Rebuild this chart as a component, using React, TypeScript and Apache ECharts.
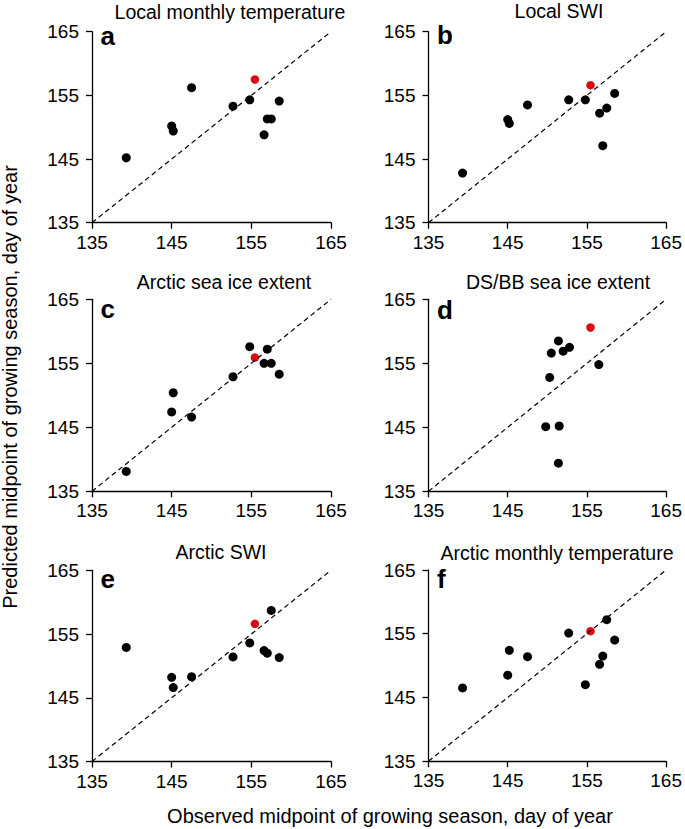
import React, { useEffect, useRef } from "react";
import * as echarts from "echarts";

// ---- data ----
const axisTicks = [135, 145, 155, 165];
const observed = [139.3, 145.0, 145.2, 147.5, 152.7, 154.8, 156.6, 157.0, 157.5, 158.5];
const observedRed = 155.45;

const predLocalTemp = [145.2, 150.2, 149.4, 156.2, 153.3, 154.3, 148.8, 151.3, 151.3, 154.1];
const predLocalSWI = [142.8, 151.2, 150.6, 153.5, 154.3, 154.3, 152.2, 147.1, 153.0, 155.3];
const predArcticIce = [138.1, 147.4, 150.4, 146.6, 152.9, 157.6, 155.0, 157.2, 155.0, 153.3];
const dsbbObserved = [149.8, 150.3, 150.5, 151.4, 151.4, 151.5, 152.0, 152.8, 156.5];
const predDsbbIce = [145.1, 152.8, 156.6, 139.4, 158.5, 145.2, 156.9, 157.5, 154.8];
const predArcticSWI = [152.9, 148.2, 146.6, 148.3, 151.4, 153.6, 152.4, 152.0, 158.7, 151.3];
const predArcticTemp = [146.5, 148.5, 152.4, 151.4, 155.1, 147.0, 150.2, 151.5, 157.2, 154.0];
const predRed = [157.5, 156.6, 155.9, 160.6, 156.6, 155.4];

const panelTitles = [
  "Local monthly temperature",
  "Local SWI",
  "Arctic sea ice extent",
  "DS/BB sea ice extent",
  "Arctic SWI",
  "Arctic monthly temperature",
];
const panelLetters = ["a", "b", "c", "d", "e", "f"];
const xAxisTitle = "Observed midpoint of growing season, day of year";
const yAxisTitle = "Predicted midpoint of growing season, day of year";

const panelObserved = [observed, observed, observed, dsbbObserved, observed, observed];
const panelPredicted = [predLocalTemp, predLocalSWI, predArcticIce, predDsbbIce, predArcticSWI, predArcticTemp];

// ---- layout (pixels) ----
const layout = [
  { left: 92, top: 31.7, width: 239, height: 191, titleX: 230, titleBase: 18.3, letterBase: 45 },
  { left: 428.5, top: 31.7, width: 238.5, height: 191, titleX: 559, titleBase: 17.8, letterBase: 44.5 },
  { left: 92, top: 299.3, width: 239, height: 192, titleX: 224, titleBase: 288.3, letterBase: 318.3 },
  { left: 428.5, top: 299.3, width: 238.5, height: 192, titleX: 558, titleBase: 288.3, letterBase: 318.8 },
  { left: 92, top: 570.3, width: 239, height: 191.2, titleX: 221, titleBase: 559, letterBase: 588.3 },
  { left: 428.5, top: 570, width: 238.5, height: 191.2, titleX: 557, titleBase: 559.3, letterBase: 588.3 },
];

const FONT = "'Liberation Sans', Arial, Helvetica, sans-serif";
const central = (fs: number) => 0.3465 * fs;

function buildOption() {
  const min = axisTicks[0];
  const max = axisTicks[axisTicks.length - 1];
  const interval = axisTicks[1] - axisTicks[0];
  const axisLine = { show: true, onZero: false, lineStyle: { color: "#000", width: 1.3 } };
  const axisTick = { show: true, length: 6, lineStyle: { color: "#000", width: 1.3 } };

  const grid = layout.map((g) => ({ left: g.left, top: g.top, width: g.width, height: g.height }));
  const xAxis = layout.map((_, i) => ({
    gridIndex: i, type: "value", min, max, interval,
    axisLine, axisTick,
    axisLabel: { color: "#000", fontSize: 19, fontFamily: FONT, margin: 10 },
    splitLine: { show: false },
  }));
  const yAxis = layout.map((_, i) => ({
    gridIndex: i, type: "value", min, max, interval,
    axisLine, axisTick,
    axisLabel: { color: "#000", fontSize: 19, fontFamily: FONT, margin: 13 },
    splitLine: { show: false },
  }));

  const series: any[] = [];
  layout.forEach((_, i) => {
    series.push({
      type: "line", xAxisIndex: i, yAxisIndex: i, silent: true,
      data: [[min, min], [max, max]], showSymbol: false, symbol: "none",
      lineStyle: { color: "#000", width: 1.2, type: [5, 3.5] },
    });
    series.push({
      type: "scatter", xAxisIndex: i, yAxisIndex: i,
      data: panelObserved[i].map((x, k) => [x, panelPredicted[i][k]]),
      symbolSize: 9, itemStyle: { color: "#000", opacity: 1 },
    });
    series.push({
      type: "scatter", xAxisIndex: i, yAxisIndex: i,
      data: [[observedRed, predRed[i]]],
      symbolSize: 8.5, itemStyle: { color: "#dc0a10", opacity: 1 },
    });
  });

  const graphic: any[] = [];
  layout.forEach((g, i) => {
    graphic.push({
      type: "text", x: g.titleX, y: g.titleBase - central(19.5),
      style: { text: panelTitles[i], fontSize: 19.5, fontFamily: FONT, fill: "#000", align: "center", verticalAlign: "middle" },
    });
    graphic.push({
      type: "text", x: g.left + 8.5, y: g.letterBase - central(26),
      style: { text: panelLetters[i], fontSize: 26, fontWeight: "bold", fontFamily: FONT, fill: "#000", align: "left", verticalAlign: "middle" },
    });
  });
  graphic.push({
    type: "text", x: 390, y: 823.3 - central(20),
    style: { text: xAxisTitle, fontSize: 20, fontFamily: FONT, fill: "#000", align: "center", verticalAlign: "middle" },
  });
  graphic.push({
    type: "text", x: 16.7 - central(20), y: 387, rotation: Math.PI / 2,
    style: { text: yAxisTitle, fontSize: 20, fontFamily: FONT, fill: "#000", align: "center", verticalAlign: "middle" },
  });

  return { animation: false, backgroundColor: "#fff", grid, xAxis, yAxis, series, graphic };
}

export default function App() {
  const ref = useRef<HTMLDivElement>(null);
  useEffect(() => {
    const chart = echarts.init(ref.current!, null, { renderer: "svg" });
    chart.setOption(buildOption() as any);
    return () => chart.dispose();
  }, []);
  return (
    <div
      ref={ref}
      style={{ position: "absolute", left: 0, top: 0, width: 685, height: 829, background: "#fff" }}
    />
  );
}
